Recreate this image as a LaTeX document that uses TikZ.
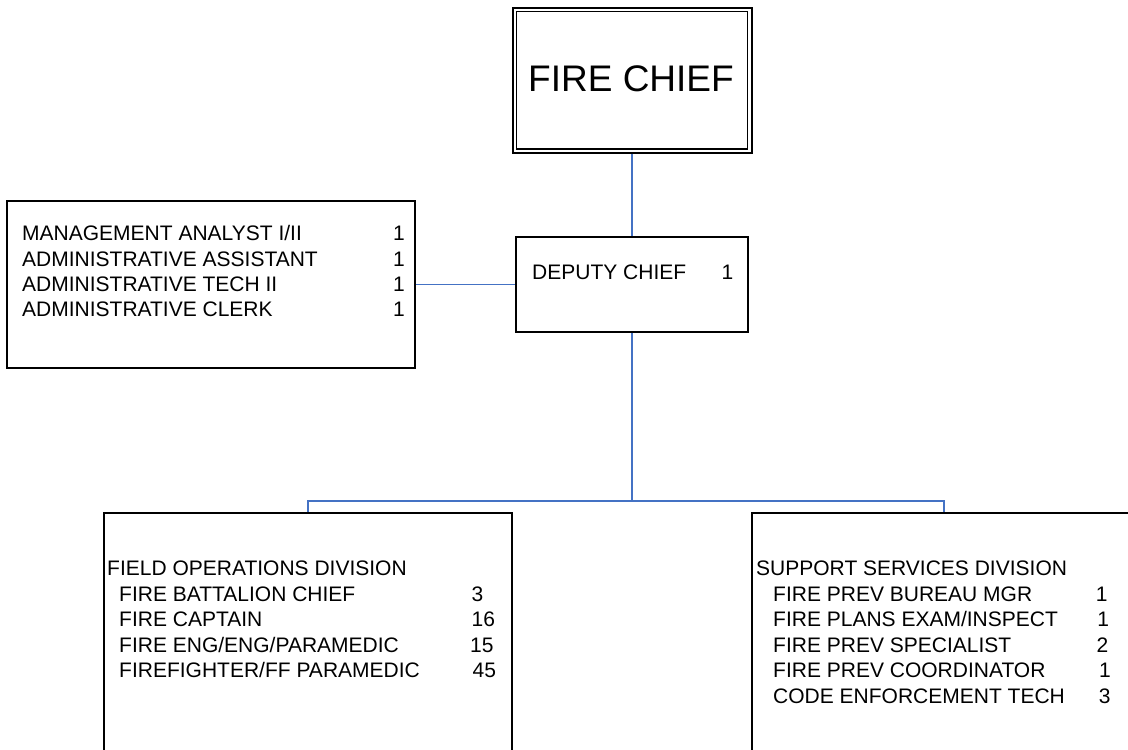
\documentclass[tikz,border=0pt]{standalone}
\usepackage{fontspec}
\setmainfont{Liberation Sans}
\usetikzlibrary{calc}
\definecolor{linkblue}{HTML}{4472C4}
\begin{document}
\begin{tikzpicture}[x=1pt,y=-1pt,
  box/.style={draw=black, line width=1.7pt, rectangle, inner sep=0pt},
  link/.style={draw=linkblue, line width=1.3pt},
  lbl/.style={font=\fontsize{21}{25}\selectfont, inner sep=0pt}]
\useasboundingbox (0,0) rectangle (1128,750);
\clip (0,0) rectangle (1128,750);
\fill[white] (0,0) rectangle (1128,750);

% boxes
\node[box, line width=2pt, minimum width=239pt, minimum height=145pt] (chief) at (632,80.3) {};
\node[box, minimum width=232pt, minimum height=95pt] (deputy) at (632,284.5) {};
\node[box, minimum width=408pt, minimum height=167pt] (admin) at (211,284.5) {};
\node[box, minimum width=408pt, minimum height=300pt] (field) at (308,663) {};
\node[box, minimum width=384pt, minimum height=300pt] (support) at (944,663) {};
\coordinate (bus) at (632,501);

% connectors
\draw[link] (chief.south) -- (deputy.north);
\draw[link] (admin.east) -- (deputy.west);
\draw[link] (deputy.south) -- (bus);
\draw[link] (field.north) |- (bus) -| (support.north);

% fire chief: double frame
\draw[line width=1.3pt] ($(chief.north west)+(4.8,4.8)$) rectangle ($(chief.south east)+(-4.8,-4.8)$);
\node[lbl, font=\fontsize{37}{40}\selectfont] (chieftext) at (631,79) {FIRE CHIEF};

% deputy chief
\node[lbl, anchor=base west] (deputytitle) at (532,279) {DEPUTY CHIEF};
\node[lbl, anchor=base] (deputycount) at (727.5,279) {1};

% administrative staff
\foreach \txt/\num [count=\i] in {{MANAGEMENT ANALYST I/II}/1, {ADMINISTRATIVE ASSISTANT}/1,
    {ADMINISTRATIVE TECH II}/1, {ADMINISTRATIVE CLERK}/1} {
  \node[lbl, anchor=base west] (adm\i) at (22,240.6+25.4*\i-25.4) {\txt};
  \node[lbl, anchor=base] (admn\i) at (399,240.6+25.4*\i-25.4) {\num};
}

% field operations division
\node[lbl, anchor=base west] (fieldhead) at (107,575.5) {FIELD OPERATIONS DIVISION};
\foreach \txt/\num/\nx [count=\i] in {{FIRE BATTALION CHIEF}/3/471.5, {FIRE CAPTAIN}/16/471.5,
    {FIRE ENG/ENG/PARAMEDIC}/15/470, {FIREFIGHTER/FF PARAMEDIC}/45/472.5} {
  \node[lbl, anchor=base west] (fld\i) at (119,575.5+25.5*\i) {\txt};
  \node[lbl, anchor=base west] (fldn\i) at (\nx,575.5+25.5*\i) {\num};
}

% support services division
\node[lbl, anchor=base west] (supphead) at (756,575.5) {SUPPORT SERVICES DIVISION};
\foreach \txt/\num/\nx [count=\i] in {{FIRE PREV BUREAU MGR}/1/1101.7, {FIRE PLANS EXAM/INSPECT}/1/1103.3,
    {FIRE PREV SPECIALIST}/2/1102.5, {FIRE PREV COORDINATOR}/1/1105, {CODE ENFORCEMENT TECH}/3/1104.7} {
  \node[lbl, anchor=base west] (sup\i) at (773,575.5+25.5*\i) {\txt};
  \node[lbl, anchor=base] (supn\i) at (\nx,575.5+25.5*\i) {\num};
}
\end{tikzpicture}
\end{document}
